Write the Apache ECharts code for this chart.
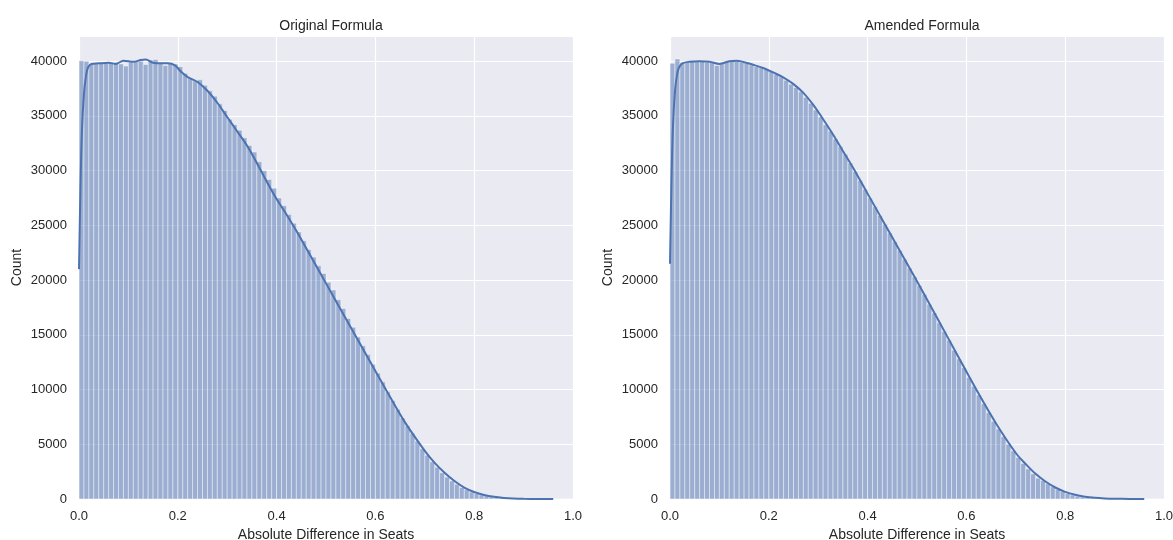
<!DOCTYPE html>
<html>
<head>
<meta charset="utf-8">
<script src="https://cdn.jsdelivr.net/npm/echarts@6/dist/echarts.min.js"></script>
<style>
  html, body { margin: 0; padding: 0; background: #fff; }
  #chart { width: 1173px; height: 540px; }
</style>
</head>
<body>
<div id="chart"></div>
<script>
// histogram bins: 0.00 .. 1.00, width 0.01
var binWidth = 0.01

var originalCounts = [
  40050, 40000, 39750, 39800, 39800, 39850, 39800, 39900, 39750, 39550,
  39900, 40000, 40000, 39700, 40100, 40150, 39850, 39600, 39800, 39750,
  39500, 38900, 38400, 38200, 38300, 37800, 37300, 36800, 36100, 35500,
  34700, 34200, 33700, 33000, 32300, 31700, 30800, 30000, 29200, 28400,
  27500, 26800, 26000, 25200, 24400, 23600, 22800, 22100, 21300, 20600,
  19800, 19100, 18200, 17400, 16500, 15700, 14800, 14000, 13200, 12300,
  11500, 10700, 9800, 9000, 8200, 7400, 6700, 6000, 5300, 4600,
  4000, 3400, 2900, 2400, 2000, 1650, 1350, 1050, 850, 650,
  500, 380, 280, 200, 140, 100, 70, 45, 30, 20,
  12, 8, 5, 3, 2, 1, 0, 0, 0, 0
]

var amendedCounts = [
  39800, 40200, 39850, 39900, 39950, 39950, 40000, 39900, 39900, 39600,
  39850, 39950, 40050, 40000, 39900, 39800, 39650, 39500, 39400, 39250,
  39050, 38800, 38550, 38250, 37900, 37600, 37200, 36700, 36150, 35550,
  34900, 34200, 33600, 32900, 32200, 31500, 30700, 29900, 29100, 28300,
  27500, 26700, 25900, 25100, 24300, 23500, 22700, 21900, 21100, 20300,
  19500, 18700, 17800, 17000, 16100, 15300, 14500, 13600, 12800, 12000,
  11100, 10300, 9500, 8700, 7900, 7100, 6400, 5700, 5000, 4400,
  3800, 3250, 2750, 2300, 1900, 1700, 1400, 1120, 880, 680,
  510, 370, 260, 180, 125, 85, 55, 35, 22, 14,
  8, 5, 3, 2, 1, 0, 0, 0, 0, 0
]

// kde curves
var originalKdeX = [0, 0.003, 0.006, 0.01, 0.014, 0.018, 0.025, 0.04, 0.06, 0.075,
  0.09, 0.11, 0.125, 0.135, 0.15, 0.165, 0.18, 0.195, 0.205, 0.22,
  0.24, 0.26, 0.28, 0.3, 0.32, 0.34, 0.36, 0.38, 0.4, 0.42,
  0.44, 0.46, 0.5, 0.54, 0.58, 0.62, 0.66, 0.7, 0.72, 0.74,
  0.76, 0.78, 0.8, 0.82, 0.84, 0.86, 0.88, 0.9, 0.93, 0.96]
var originalKdeY = [21000, 28500, 33700, 37000, 38600, 39400, 39750, 39800, 39850, 39750,
  40050, 39950, 40100, 40150, 39850, 39800, 39800, 39600, 39100, 38550,
  38100, 37300, 36200, 34900, 33600, 32300, 30700, 29000, 27400, 26000,
  24500, 22900, 19700, 16500, 13300, 10100, 7000, 4400, 3300, 2400,
  1650, 1050, 640, 370, 200, 100, 45, 20, 5, 0]

var amendedKdeX = [0, 0.003, 0.006, 0.01, 0.014, 0.018, 0.025, 0.04, 0.06, 0.08,
  0.1, 0.12, 0.135, 0.15, 0.17, 0.19, 0.21, 0.23, 0.25, 0.27,
  0.29, 0.31, 0.33, 0.35, 0.37, 0.39, 0.41, 0.43, 0.46, 0.5,
  0.54, 0.58, 0.62, 0.66, 0.7, 0.72, 0.74, 0.76, 0.78, 0.8,
  0.82, 0.84, 0.86, 0.88, 0.9, 0.93, 0.96]
var amendedKdeY = [21500, 29000, 34000, 37200, 38700, 39400, 39800, 39950, 40000, 39950,
  39750, 40000, 40050, 39900, 39650, 39350, 38950, 38500, 37900, 37100,
  36000, 34700, 33300, 31800, 30300, 28700, 27100, 25500, 23100, 19900,
  16600, 13300, 10000, 6900, 4200, 3200, 2300, 1600, 1050, 650,
  380, 210, 110, 55, 25, 7, 0]

var titles = ['Original Formula', 'Amended Formula']
var xName = 'Absolute Difference in Seats'
var yName = 'Count'

var blue = '#4C72B0'
var textColor = '#262626'
var font = 'Liberation Sans'

function toBins(counts) {
  return counts.map(function (c, i) {
    return [+(i * binWidth).toFixed(2), +((i + 1) * binWidth).toFixed(2), c]
  })
}

function zip(xs, ys) {
  return xs.map(function (x, i) { return [x, ys[i]] })
}

function renderBin(params, api) {
  var top = api.coord([api.value(0), api.value(2)])
  var bottom = api.coord([api.value(1), 0])
  return {
    type: 'rect',
    shape: { x: top[0], y: top[1], width: bottom[0] - top[0], height: bottom[1] - top[1] },
    style: { fill: 'rgba(76,114,176,0.5)', stroke: 'rgba(255,255,255,0.55)', lineWidth: 0.8 }
  }
}

var grids = [
  { left: 79, top: 36, width: 494, height: 463 },
  { left: 670, top: 36, width: 494, height: 463 }
]

function xAxis(i) {
  return {
    type: 'value', gridIndex: i, min: 0, max: 1, interval: 0.2,
    name: xName, nameLocation: 'middle', nameGap: 29,
    nameTextStyle: { color: textColor, fontSize: 14, fontFamily: font },
    axisLine: { show: false }, axisTick: { show: false },
    axisLabel: { color: textColor, fontSize: 13, fontFamily: font, margin: 11,
      formatter: function (v) { return v.toFixed(1) } },
    splitLine: { show: true, lineStyle: { color: '#fff', width: 1.2 } }
  }
}

function yAxis(i) {
  return {
    type: 'value', gridIndex: i, min: 0, max: 42300, interval: 5000,
    name: yName, nameLocation: 'middle', nameGap: 55,
    nameTextStyle: { color: textColor, fontSize: 14, fontFamily: font },
    axisLine: { show: false }, axisTick: { show: false },
    axisLabel: { color: textColor, fontSize: 13, fontFamily: font, margin: 12,
      showMaxLabel: false,
      formatter: function (v) { return v % 5000 === 0 ? String(v) : '' } },
    splitLine: { show: true, lineStyle: { color: '#fff', width: 1.2 } }
  }
}

var myChart = echarts.init(document.getElementById('chart'))

var option = {
  backgroundColor: '#fff',
  animation: false,
  title: titles.map(function (t, i) {
    return {
      text: t, top: 14, left: grids[i].left + grids[i].width / 2, textAlign: 'center',
      textStyle: { color: textColor, fontSize: 14, fontWeight: 'normal', fontFamily: font }
    }
  }),
  grid: grids.map(function (g) {
    return Object.assign({ show: true, backgroundColor: '#EAEAF2', borderWidth: 0,
      containLabel: false, outerBoundsMode: 'none' }, g)
  }),
  xAxis: [xAxis(0), xAxis(1)],
  yAxis: [yAxis(0), yAxis(1)],
  series: [
    { type: 'custom', xAxisIndex: 0, yAxisIndex: 0, renderItem: renderBin,
      encode: { x: [0, 1], y: 2 }, data: toBins(originalCounts), clip: true },
    { type: 'line', xAxisIndex: 0, yAxisIndex: 0, data: zip(originalKdeX, originalKdeY),
      smooth: 0.35, showSymbol: false,
      lineStyle: { color: blue, width: 2 }, itemStyle: { color: blue } },
    { type: 'custom', xAxisIndex: 1, yAxisIndex: 1, renderItem: renderBin,
      encode: { x: [0, 1], y: 2 }, data: toBins(amendedCounts), clip: true },
    { type: 'line', xAxisIndex: 1, yAxisIndex: 1, data: zip(amendedKdeX, amendedKdeY),
      smooth: 0.35, showSymbol: false,
      lineStyle: { color: blue, width: 2 }, itemStyle: { color: blue } }
  ]
}

myChart.setOption(option)
</script>
</body>
</html>
